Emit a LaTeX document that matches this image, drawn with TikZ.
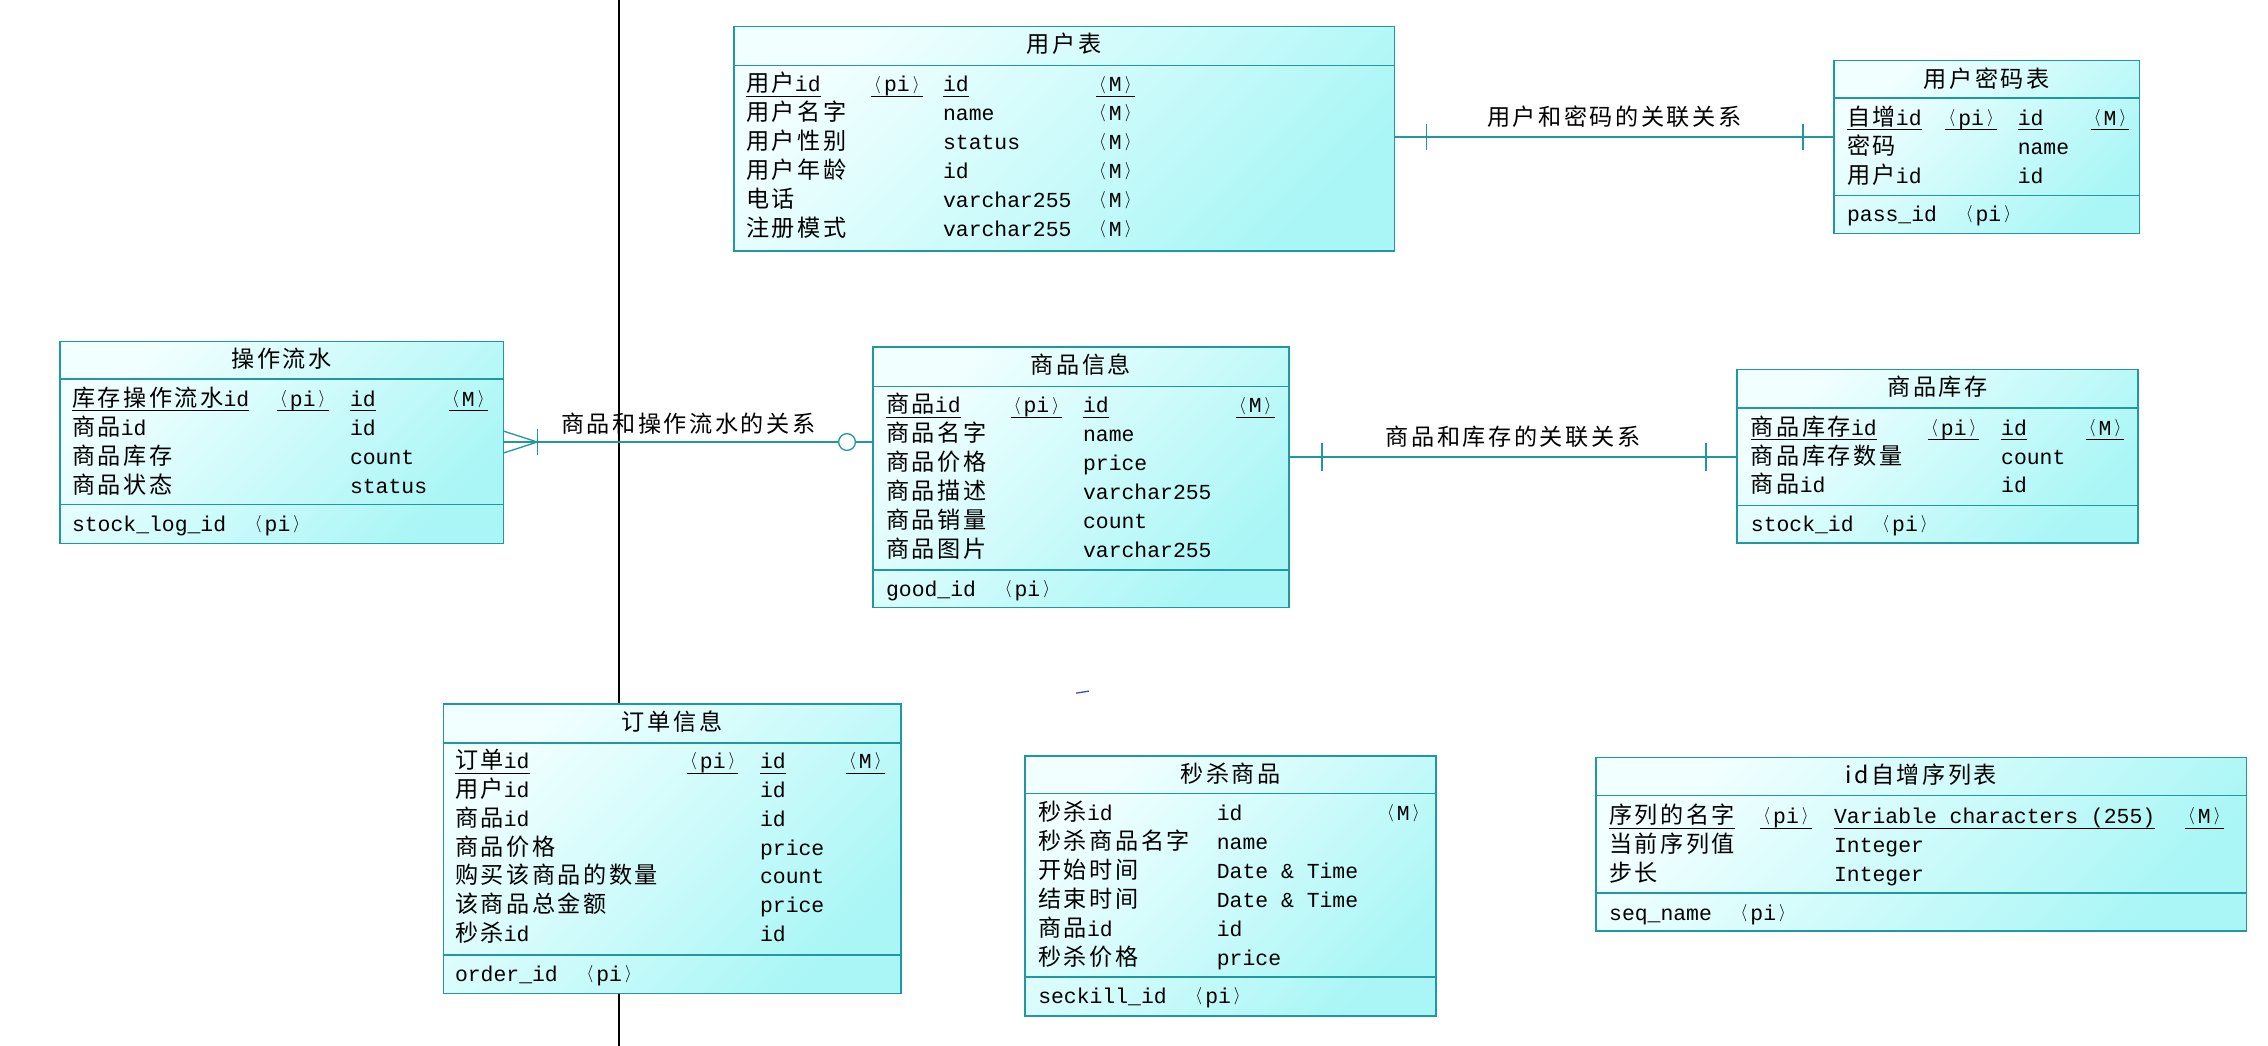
\documentclass[tikz,border=0pt]{standalone}
\usepackage{fontspec}
\setmonofont{Liberation Mono}
\newfontfamily\cjk[LetterSpace=11]{Noto Sans CJK SC}
\usetikzlibrary{calc}

\definecolor{erline}{RGB}{32,152,160}
\definecolor{erlight}{RGB}{242,255,255}
\definecolor{erdark}{RGB}{170,246,246}
\definecolor{strayblue}{RGB}{70,70,210}

% monospace cell width of the attribute font
\newlength\monow \setlength\monow{8.88pt}
\newcommand\zh[1]{{\cjk\fontsize{16}{18}\selectfont #1}}
\newcommand\angl{\makebox[\monow]{\raisebox{2pt}{\fontsize{11.5}{13}\selectfont$\langle$}}}
\newcommand\angr{\makebox[\monow]{\raisebox{2pt}{\fontsize{11.5}{13}\selectfont$\rangle$}}}
\newcommand\pkpi{\angl pi\angr}
\newcommand\mand{\angl M\angr}
% primary-key underline at a fixed depth
\newsavebox\keybox
\newcommand\keyul[1]{\sbox\keybox{#1}\rlap{\rule[-3.3pt]{\wd\keybox}{0.6pt}}\usebox\keybox}

\newcounter{cellid}
\newcommand\ercell[3]{\stepcounter{cellid}\node[cellf] (cell\arabic{cellid}) at (#1,#2+6) {#3};}
\newcommand\setcols[4]{\def\colA{#1}\def\colB{#2}\def\colC{#3}\def\colD{#4}}
\newcommand\errow[5]{\ercell{\colA}{#1}{#2}\ercell{\colB}{#1}{#3}\ercell{\colC}{#1}{#4}\ercell{\colD}{#1}{#5}}
% entity box: name, x1, y1, x2, y2
\newcommand\entitybox[5]{%
  \pgfmathsetmacro\erW{#4-#2}\pgfmathsetmacro\erH{#5-#3}%
  \node[entity, minimum width=\erW pt, minimum height=\erH pt] (#1) at (#2,#3) {};}
% horizontal divider inside an entity, offset from its top edge
\newcommand\divider[2]{\draw[sepline] ($(#1.north west)+(0,#2)$) -- ($(#1.north east)+(0,#2)$);}
\newcommand\ertitle[2]{\node[titlef] (#1-title) at ($(#1.north)+(0,18.2)$) {#2};}

\begin{document}
\begin{tikzpicture}[x=1pt,y=-1pt,
  entity/.style={draw=erline, line width=1pt, top color=erlight, bottom color=erdark,
    shading angle=45, inner sep=0pt, outer sep=0pt, anchor=north west},
  sepline/.style={draw=erline, line width=0.9pt},
  relline/.style={draw=erline, line width=0.9pt},
  cellf/.style={anchor=base west, inner sep=0pt, outer sep=0pt,
    font=\fontsize{14.8}{16}\selectfont\ttfamily},
  titlef/.style={anchor=base, inner sep=0pt, font=\cjk\fontsize{16}{18}\selectfont},
  rellabel/.style={inner sep=0pt, font=\cjk\fontsize{16}{18}\selectfont}]

\useasboundingbox (0,0) rectangle (1568,723);
\fill[white] (0,0) rectangle (1568,723);

% thin black guide line across the sheet
\draw[black, line width=0.9pt] (428,0) -- (428,723);

% ---------------- entities ----------------
\entitybox{user}{507.5}{18.4}{964}{173.6}
\divider{user}{45.4-18.4}
\ertitle{user}{用户表}
\begin{scope}
\clip (user.north west) rectangle (user.south east);
\setcols{515.8}{602.3}{652}{757.8}
\errow{57.6}{\keyul{\zh{用户}id}}{\keyul{\pkpi}}{\keyul{id}}{\keyul{\mand}}
\errow{77.55}{\zh{用户名字}}{}{name}{\mand}
\errow{97.5}{\zh{用户性别}}{}{status}{\mand}
\errow{117.45}{\zh{用户年龄}}{}{id}{\mand}
\errow{137.4}{\zh{电话}}{}{varchar255}{\mand}
\errow{157.35}{\zh{注册模式}}{}{varchar255}{\mand}
\end{scope}

\entitybox{pwd}{1268}{42}{1479}{161.5}
\divider{pwd}{67.8-42}
\divider{pwd}{135-42}
\ertitle{pwd}{用户密码表}
\setcols{1277}{1345}{1395}{1445.5}
\errow{80.6}{\keyul{\zh{自增}id}}{\keyul{\pkpi}}{\keyul{id}}{\keyul{\mand}}
\errow{100.6}{\zh{密码}}{}{name}{}
\errow{120.6}{\zh{用户}id}{}{id}{}
\ercell{1277}{147}{pass\_id\hspace{2\monow}\pkpi}

\entitybox{log}{41.5}{236}{348}{375.7}
\divider{log}{262-236}
\divider{log}{349-236}
\ertitle{log}{操作流水}
\setcols{49.8}{191.6}{242}{310.5}
\errow{274.7}{\keyul{\zh{库存操作流水}id}}{\keyul{\pkpi}}{\keyul{id}}{\keyul{\mand}}
\errow{294.8}{\zh{商品}id}{}{id}{}
\errow{314.9}{\zh{商品库存}}{}{count}{}
\errow{335}{\zh{商品状态}}{}{status}{}
\ercell{49.8}{361.6}{stock\_log\_id\hspace{2\monow}\pkpi}

\entitybox{goods}{603.7}{240}{891}{420}
\divider{goods}{267.4-240}
\divider{goods}{394-240}
\ertitle{goods}{商品信息}
\setcols{612.6}{698.8}{748.8}{854.5}
\errow{279.5}{\keyul{\zh{商品}id}}{\keyul{\pkpi}}{\keyul{id}}{\keyul{\mand}}
\errow{299.5}{\zh{商品名字}}{}{name}{}
\errow{319.4}{\zh{商品价格}}{}{price}{}
\errow{339.4}{\zh{商品描述}}{}{varchar255}{}
\errow{359.3}{\zh{商品销量}}{}{count}{}
\errow{379.2}{\zh{商品图片}}{}{varchar255}{}
\ercell{612.6}{406.5}{good\_id\hspace{2\monow}\pkpi}

\entitybox{stock}{1201}{255.3}{1478}{375.5}
\divider{stock}{282-255.3}
\divider{stock}{349.7-255.3}
\ertitle{stock}{商品库存}
\setcols{1210.5}{1333}{1383.5}{1442}
\errow{295}{\keyul{\zh{商品库存}id}}{\keyul{\pkpi}}{\keyul{id}}{\keyul{\mand}}
\errow{315}{\zh{商品库存数量}}{}{count}{}
\errow{334.8}{\zh{商品}id}{}{id}{}
\ercell{1210.5}{361.7}{stock\_id\hspace{2\monow}\pkpi}

\entitybox{order}{306.5}{486.8}{622.8}{687}
\divider{order}{513.7-486.8}
\divider{order}{660.3-486.8}
\ertitle{order}{订单信息}
\setcols{314.6}{475}{525.5}{584.9}
\errow{525.5}{\keyul{\zh{订单}id}}{\keyul{\pkpi}}{\keyul{id}}{\keyul{\mand}}
\errow{545.4}{\zh{用户}id}{}{id}{}
\errow{565.3}{\zh{商品}id}{}{id}{}
\errow{585.2}{\zh{商品价格}}{}{price}{}
\errow{605.1}{\zh{购买该商品的数量}}{}{count}{}
\errow{625}{\zh{该商品总金额}}{}{price}{}
\errow{644.9}{\zh{秒杀}id}{}{id}{}
\ercell{314.6}{672.7}{order\_id\hspace{2\monow}\pkpi}

\entitybox{seckill}{708.7}{522.7}{992.8}{702.4}
\divider{seckill}{548.8-522.7}
\divider{seckill}{675.5-522.7}
\ertitle{seckill}{秒杀商品}
\setcols{717.8}{841.3}{841.3}{956.9}
\errow{561.4}{\zh{秒杀}id}{id}{}{\mand}
\errow{581.4}{\zh{秒杀商品名字}}{name}{}{}
\errow{601.5}{\zh{开始时间}}{Date \& Time}{}{}
\errow{621.5}{\zh{结束时间}}{Date \& Time}{}{}
\errow{641.6}{\zh{商品}id}{id}{}{}
\errow{661.6}{\zh{秒杀价格}}{price}{}{}
\ercell{717.8}{688}{seckill\_id\hspace{2\monow}\pkpi}

\entitybox{seq}{1103.5}{523.8}{1553}{643.7}
\divider{seq}{550-523.8}
\divider{seq}{617.4-523.8}
\ertitle{seq}{id自增序列表}
\setcols{1112.5}{1217}{1268}{1510.7}
\errow{563.5}{\keyul{\zh{序列的名字}}}{\keyul{\pkpi}}{\keyul{Variable characters (255)}}{\keyul{\mand}}
\errow{583.5}{\zh{当前序列值}}{}{Integer}{}
\errow{603.6}{\zh{步长}}{}{Integer}{}
\ercell{1112.5}{630.5}{seq\_name\hspace{2\monow}\pkpi}

% ---------------- relationships ----------------
% user -- password (one to one)
\coordinate (r1y) at (0,94.7);
\coordinate (r1a) at (user.east |- r1y);
\coordinate (r1b) at (pwd.west |- r1y);
\draw[relline] (r1a) -- node[rellabel, yshift=13.7pt] (lab1) {用户和密码的关联关系} (r1b);
\draw[relline] ($(r1a)+(22,-9.3)$) -- ($(r1a)+(22,9.3)$);
\draw[relline] ($(r1b)+(-21.4,-9.3)$) -- ($(r1b)+(-21.4,9.3)$);

% goods -- stock (one to one)
\coordinate (r2y) at (0,316);
\coordinate (r2a) at (goods.east |- r2y);
\coordinate (r2b) at (stock.west |- r2y);
\draw[relline] (r2a) -- node[rellabel, yshift=14pt] (lab2) {商品和库存的关联关系} (r2b);
\draw[relline] ($(r2a)+(23,-9.8)$) -- ($(r2a)+(23,9.8)$);
\draw[relline] ($(r2b)+(-21.5,-9.8)$) -- ($(r2b)+(-21.5,9.8)$);

% operation log -- goods (many to optional one)
\coordinate (r3y) at (0,305.6);
\coordinate (r3a) at (log.east |- r3y);
\coordinate (r3b) at (goods.west |- r3y);
\node[circle, draw=erline, line width=0.9pt, fill=white, minimum size=11.6pt, inner sep=0pt]
  (optc) at ($(r3b)+(-18.1,0)$) {};
\path (r3a) -- node[rellabel, yshift=13pt] (lab3) {商品和操作流水的关系} (r3b);
\draw[relline] (r3a) -- (optc.west);
\draw[relline] (optc.east) -- (r3b);
\draw[relline] ($(r3a)+(0,-7.6)$) -- ($(r3a)+(23.5,0)$) -- ($(r3a)+(0,7.6)$);
\draw[relline] ($(r3a)+(23.5,-9.3)$) -- ($(r3a)+(23.5,9.3)$);

% small stray stroke
\draw[strayblue, line width=0.9pt] (744,479.2) -- (752.8,477.8);

\end{tikzpicture}
\end{document}
